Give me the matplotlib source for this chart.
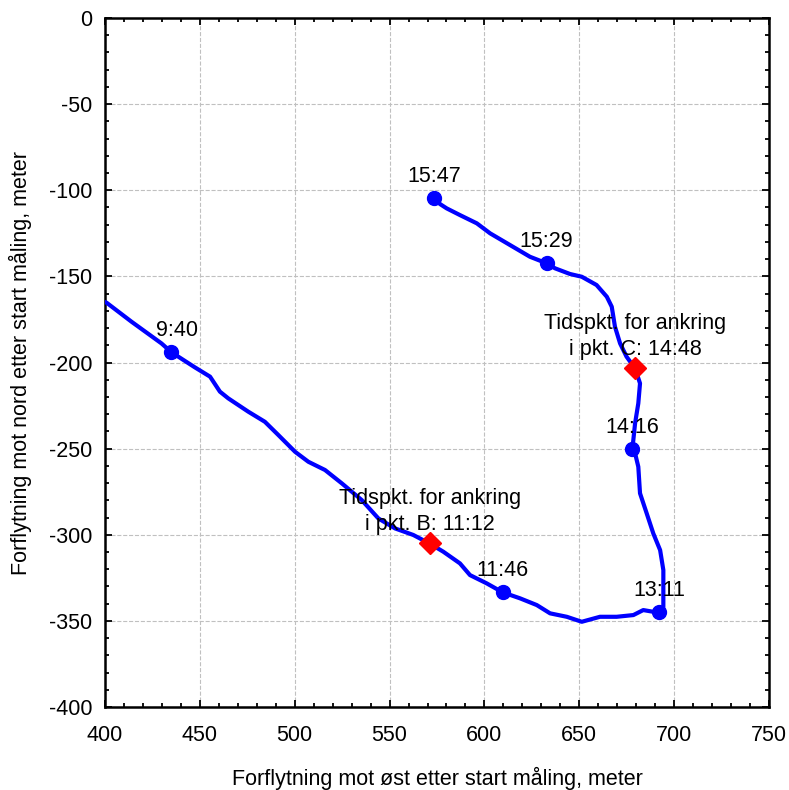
import matplotlib
matplotlib.use('Agg')
import matplotlib.pyplot as plt
from matplotlib.ticker import MultipleLocator

plt.rcParams['font.family'] = ['Liberation Sans', 'DejaVu Sans']
plt.rcParams['axes.unicode_minus'] = False

# track of the boat, east / north displacement in meter
track_x = [398, 400.9, 414, 429.8, 435, 447.4, 455.4, 460.6, 465, 475.5, 484.3, 491.4,
           500.2, 507.2, 516, 524.8, 535.3, 544.1, 552.9, 562.5, 571, 578.3, 587.1,
           592.4, 601.2, 609.6, 618.8, 627.6, 634.6, 643.4, 651.3, 660.9, 669.7,
           678.5, 683.7, 689, 692.2, 694.3, 694.3, 692.6, 689, 685.5, 682, 681.1,
           679.4, 678, 679.4, 681.1, 682, 679.4, 674.9, 671.5, 668.8, 667.1, 664.5,
           659.1, 651.3, 645.1, 637.2, 632.8, 624, 613.5, 603, 596, 587.1, 580.1,
           576.6, 573.4]
track_y = [-164, -165.3, -176.3, -188.9, -194, -202.8, -208.2, -216.9, -220.8, -228.5,
           -234.4, -242.1, -251.8, -257.6, -262.4, -270.1, -279.8, -290.5, -296.3,
           -300.1, -305, -309.8, -316.6, -323.4, -328.2, -333.4, -336.9, -340.8,
           -345.6, -347.6, -350.5, -347.6, -347.6, -346.6, -343.7, -344.7, -345,
           -341.8, -320.5, -308.9, -299.2, -287.5, -275.9, -260.5, -252.7, -250,
           -235.3, -223.7, -212.1, -203.4, -196.6, -188.9, -179.2, -167.6, -161.8,
           -155, -150.2, -148.6, -145.3, -142.4, -138.6, -131.8, -125, -119.2,
           -114.4, -110.5, -108, -104.3]

# time stamps along the track
time_lbl = ['9:40', '11:46', '13:11', '14:16', '15:29', '15:47']
time_x = [435, 609.6, 692.2, 678, 632.8, 573.4]
time_y = [-194, -333.4, -345, -250, -142.4, -104.3]

# anchoring points
anchor_lbl = ['Tidspkt. for ankring\ni pkt. B: 11:12', 'Tidspkt. for ankring\ni pkt. C: 14:48']
anchor_x = [571.5, 679.4]
anchor_y = [-305, -203.4]

fs = 15.5

fig = plt.figure(figsize=(7.89, 7.90), dpi=100)
ax = fig.add_axes([0.133, 0.105, 0.8417, 0.8722])

ax.plot(track_x, track_y, color='#0000ff', lw=3, zorder=3)
ax.plot(time_x, time_y, 'o', color='#0000ff', ms=10, zorder=4)
ax.plot(anchor_x, anchor_y, 'D', color='#ff0000', ms=11.5, zorder=5)

for lbl, x, y in zip(time_lbl, time_x, time_y):
    dx = 4 if lbl == '9:40' else 0
    ax.annotate(lbl, (x, y), xytext=(dx, 8), textcoords='offset points',
                ha='center', va='bottom', fontsize=fs, zorder=6)

for lbl, x, y in zip(anchor_lbl, anchor_x, anchor_y):
    ax.annotate(lbl, (x, y), xytext=(0, 6), textcoords='offset points',
                ha='center', va='bottom', fontsize=fs, linespacing=1.3, zorder=6)

ax.set_xlim(400, 750)
ax.set_ylim(-400, 0)
ax.xaxis.set_major_locator(MultipleLocator(50))
ax.xaxis.set_minor_locator(MultipleLocator(10))
ax.yaxis.set_major_locator(MultipleLocator(50))
ax.yaxis.set_minor_locator(MultipleLocator(10))
ax.tick_params(which='both', direction='in', top=True, right=True, labelsize=fs, width=1.3)
ax.tick_params(which='major', length=5, pad=9)
ax.tick_params(axis='x', which='major', pad=13)
ax.tick_params(which='minor', length=3)
ax.grid(True, which='major', ls='--', color='#c0c0c0', lw=0.8)
for s in ax.spines.values():
    s.set_linewidth(1.8)

ax.set_xlabel('Forflytning mot øst etter start måling, meter', fontsize=fs, labelpad=15)
ax.set_ylabel('Forflytning mot nord etter start måling, meter', fontsize=fs, labelpad=12)

fig.savefig('out.png', dpi=100)
